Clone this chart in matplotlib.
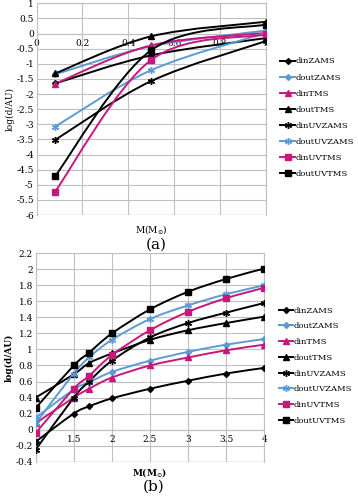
import numpy as np
import matplotlib
matplotlib.use("Agg")
from matplotlib import pyplot as plt
from matplotlib.path import Path
from matplotlib.patches import PathPatch
from matplotlib.lines import Line2D
from matplotlib.ticker import MultipleLocator, FuncFormatter

plt.rcParams["font.family"] = "DejaVu Serif"
plt.rcParams["axes.unicode_minus"] = False
plt.rcParams["mathtext.fontset"] = "dejavuserif"

names = ["dinZAMS", "doutZAMS", "dinTMS", "doutTMS",
         "dinUVZAMS", "doutUVZAMS", "dinUVTMS", "doutUVTMS"]

# panel (a): low masses
mass_a = [0.08, 0.5, 1.0]
vals_a = {
    "dinZAMS":    [-1.65, -0.72, -0.15],
    "doutZAMS":   [-1.35, -0.42, 0.10],
    "dinTMS":     [-1.66, -0.39, 0.02],
    "doutTMS":    [-1.32, -0.09, 0.39],
    "dinUVZAMS":  [-3.52, -1.57, -0.25],
    "doutUVZAMS": [-3.08, -1.21, 0.02],
    "dinUVTMS":   [-5.23, -0.87, -0.03],
    "doutUVTMS":  [-4.72, -0.55, 0.30],
}

# panel (b): higher masses
mass_b = [1.0, 1.5, 1.7, 2.0, 2.5, 3.0, 3.5, 4.0]
vals_b = {
    "dinZAMS":    [-0.15, 0.20, 0.29, 0.39, 0.51, 0.61, 0.70, 0.77],
    "doutZAMS":   [0.15, 0.50, 0.59, 0.72, 0.86, 0.97, 1.06, 1.13],
    "dinTMS":     [0.08, 0.40, 0.51, 0.65, 0.80, 0.90, 0.99, 1.06],
    "doutTMS":    [0.40, 0.69, 0.83, 0.95, 1.12, 1.24, 1.33, 1.41],
    "dinUVZAMS":  [-0.25, 0.40, 0.60, 0.86, 1.15, 1.33, 1.46, 1.58],
    "doutUVZAMS": [0.08, 0.70, 0.90, 1.12, 1.38, 1.55, 1.69, 1.80],
    "dinUVTMS":   [-0.04, 0.51, 0.67, 0.93, 1.24, 1.47, 1.64, 1.77],
    "doutUVTMS":  [0.27, 0.80, 0.96, 1.20, 1.50, 1.72, 1.88, 2.01],
}

BLACK = "#000000"
BLUE = "#5B9BD5"
MAGENTA = "#C8177C"
star = (6, 2, 0)
styles = {
    "dinZAMS":    (BLACK, "D", 3.0),
    "doutZAMS":   (BLUE, "D", 3.0),
    "dinTMS":     (MAGENTA, "^", 4.5),
    "doutTMS":    (BLACK, "^", 4.5),
    "dinUVZAMS":  (BLACK, star, 5.0),
    "doutUVZAMS": (BLUE, star, 5.0),
    "dinUVTMS":   (MAGENTA, "s", 4.5),
    "doutUVTMS":  (BLACK, "s", 4.5),
}
GRID = "#BFBFBF"


def smooth_line(ax, x, y, color):
    # excel-like smoothed line (catmull-rom as cubic bezier)
    p = np.column_stack([x, y]).astype(float)
    n = len(p)
    verts = [p[0]]
    codes = [Path.MOVETO]
    for i in range(n - 1):
        prev = p[max(i - 1, 0)]
        nxt = p[min(i + 2, n - 1)]
        c1 = p[i] + (p[i + 1] - prev) / 6.0
        c2 = p[i + 1] - (nxt - p[i]) / 6.0
        verts += [c1, c2, p[i + 1]]
        codes += [Path.CURVE4] * 3
    ax.add_patch(PathPatch(Path(verts, codes), fill=False,
                           edgecolor=color, lw=1.4, zorder=3))


def draw(ax, x, data):
    for nm in names:
        c, m, ms = styles[nm]
        smooth_line(ax, x, data[nm], c)
        ax.plot(x, data[nm], ls="none", marker=m, ms=ms, color=c,
                mec=c, mew=1.0, zorder=4)


def frame(ax):
    ax.grid(True, color=GRID, lw=0.8)
    ax.set_axisbelow(True)
    for s in ["left", "top", "right"]:
        ax.spines[s].set_color(GRID)
    ax.spines["bottom"].set_position(("data", 0))
    ax.spines["bottom"].set_color(GRID)
    ax.tick_params(length=0, labelsize=6.5, pad=2)
    ax.tick_params(axis="x", pad=4)


def legend(ax, y0, sp):
    handles = []
    for nm in names:
        c, m, ms = styles[nm]
        handles.append(Line2D([], [], color=c, lw=1.4, marker=m, ms=ms,
                              mec=c, mew=1.0))
    ax.legend(handles, names, loc="upper left", bbox_to_anchor=(1.05, y0),
              frameon=False, fontsize=6, handlelength=1.7,
              handletextpad=0.1, labelspacing=sp, borderaxespad=0)


def fmt(v, pos):
    return "%g" % round(v, 2)


fig = plt.figure(figsize=(3.58, 4.99), dpi=100)

# (a)
ax1 = fig.add_axes([0.1025, 0.5691, 0.6397, 0.4242])
draw(ax1, mass_a, vals_a)
ax1.set_xlim(0, 1)
ax1.set_ylim(-6, 1)
ax1.xaxis.set_major_locator(MultipleLocator(0.2))
ax1.yaxis.set_major_locator(MultipleLocator(0.5))
ax1.xaxis.set_major_formatter(FuncFormatter(fmt))
ax1.yaxis.set_major_formatter(FuncFormatter(fmt))
frame(ax1)
ax1.axhline(-6, color=GRID, lw=1.0, zorder=0.5)
ax1.set_ylabel("log(d/AU)", fontsize=6.5, labelpad=1)
ax1.text(0.5, -6.25, r"M(M$_{\odot}$)", ha="center", va="top", fontsize=6.5)
ax1.text(0.52, -6.75, "(a)", ha="center", va="top", fontsize=11)
legend(ax1, 0.76, 0.97)

# (b)
ax2 = fig.add_axes([0.0997, 0.0748, 0.6385, 0.4176])
draw(ax2, mass_b, vals_b)
ax2.set_xlim(1, 4)
ax2.set_ylim(-0.4, 2.2)
ax2.xaxis.set_major_locator(MultipleLocator(0.5))
ax2.yaxis.set_major_locator(MultipleLocator(0.2))
ax2.xaxis.set_major_formatter(FuncFormatter(lambda v, p: "" if abs(v - 1) < 1e-6 else "%g" % v))
ax2.yaxis.set_major_formatter(FuncFormatter(fmt))
frame(ax2)
ax2.axhline(-0.4, color=GRID, lw=1.0, zorder=0.5)
ax2.set_ylabel("log(d/AU)", fontsize=6.5, fontweight="bold", labelpad=1)
ax2.text(2.5, -0.45, r"M(M$_{\odot}$)", ha="center", va="top", fontsize=6.5,
         fontweight="bold")
ax2.text(2.55, -0.62, "(b)", ha="center", va="top", fontsize=11)
legend(ax2, 0.76, 0.93)

fig.savefig("out.png", dpi=100)
